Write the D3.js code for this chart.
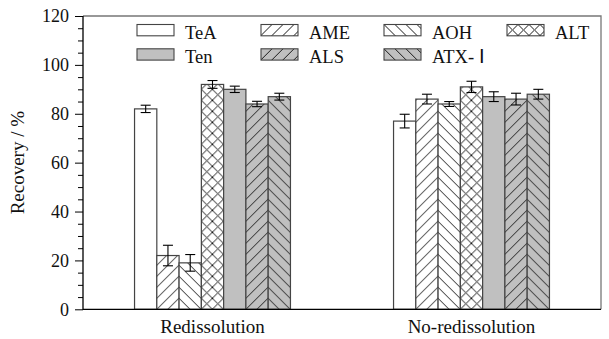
<!DOCTYPE html>
<html>
<head>
<meta charset="utf-8">
<script src="https://cdn.jsdelivr.net/npm/d3@7"></script>
<style>
  html, body { margin: 0; padding: 0; background: #fff; }
  svg { display: block; font-family: "Liberation Serif", "Times New Roman", serif; }
</style>
</head>
<body>
<svg id="chart" width="609" height="339"></svg>
<script>
// ---- data ----
const categories = ["Redissolution", "No-redissolution"];
const series = ["TeA", "AME", "AOH", "ALT", "Ten", "ALS", "ATX- Ⅰ"];
const valuesRedissolution = [82, 22, 19, 92, 90, 84, 87];
const errorsRedissolution = [1.5, 4.2, 3.4, 1.6, 1.3, 1.1, 1.4];
const valuesNoRedissolution = [77, 86, 84, 91, 87, 86, 88];
const errorsNoRedissolution = [2.8, 2.0, 1.0, 2.3, 2.0, 2.4, 2.0];
const yTicks = [0, 20, 40, 60, 80, 100, 120];
const yLabel = "Recovery / %";

// style per series: fill and hatch type
const fills = ["#ffffff", "#ffffff", "#ffffff", "#ffffff", "#c0c0c0", "#c0c0c0", "#c0c0c0"];
const hatches = ["none", "fwd", "back", "cross", "none", "fwd", "back"];

const values = [valuesRedissolution, valuesNoRedissolution];
const errors = [errorsRedissolution, errorsNoRedissolution];

const W = 609, H = 339;
const margin = { left: 83, right: 8, top: 16, bottom: 29.7 };
const svg = d3.select("#chart");
const defs = svg.append("defs");

const x0 = d3.scaleBand().domain(categories).range([margin.left, W - margin.right])
  .paddingInner(0.398).paddingOuter(0.199);
const x1 = d3.scaleBand().domain(series).range([0, x0.bandwidth()]);
const y = d3.scaleLinear().domain([0, 120]).range([H - margin.bottom, margin.top]);

const P = 11;
function hatchPath(type) {
  const fwd = `M0,${P} L${P},0 M${-P/2},${P/2} L${P/2},${-P/2} M${P/2},${P*1.5} L${P*1.5},${P/2}`;
  const back = `M0,0 L${P},${P} M${-P/2},${P/2} L${P/2},${P*1.5} M${P/2},${-P/2} L${P*1.5},${P/2}`;
  if (type === "fwd") return fwd;
  if (type === "back") return back;
  if (type === "cross") return fwd + " " + back;
  return "";
}
let pid = 0;
function makeFill(i, ox, oy) {
  if (hatches[i] === "none") return fills[i];
  const id = "pat" + (pid++);
  const p = defs.append("pattern").attr("id", id).attr("patternUnits", "userSpaceOnUse")
    .attr("x", ox).attr("y", oy).attr("width", P).attr("height", P);
  p.append("rect").attr("width", P).attr("height", P).attr("fill", fills[i]);
  p.append("path").attr("d", hatchPath(hatches[i])).attr("stroke", "#1a1a1a")
    .attr("stroke-width", 1).attr("fill", "none");
  return `url(#${id})`;
}

// frame (top/right grey)
svg.append("path")
  .attr("d", `M${margin.left},${margin.top} H${W - margin.right} V${H - margin.bottom}`)
  .attr("fill", "none").attr("stroke", "#777").attr("stroke-width", 1.3);

// bars
const bars = [];
categories.forEach((c, ci) => {
  series.forEach((s, si) => {
    bars.push({ c, ci, s, si, v: values[ci][si], e: errors[ci][si] });
  });
});
const g = svg.append("g");
bars.forEach(d => {
  const bx = x0(d.c) + x1(d.s);
  const bw = x1.bandwidth();
  g.append("rect")
    .attr("x", bx).attr("y", y(d.v))
    .attr("width", bw).attr("height", y(0) - y(d.v))
    .attr("fill", makeFill(d.si, bx, y(0)))
    .attr("stroke", "#444").attr("stroke-width", 1.2);
});
// error bars
bars.forEach(d => {
  const cx = x0(d.c) + x1(d.s) + x1.bandwidth() / 2;
  const eg = g.append("g").attr("stroke", "#000").attr("stroke-width", 1.1);
  eg.append("line").attr("x1", cx).attr("x2", cx).attr("y1", y(d.v - d.e)).attr("y2", y(d.v + d.e));
  eg.append("line").attr("x1", cx - 5).attr("x2", cx + 5).attr("y1", y(d.v - d.e)).attr("y2", y(d.v - d.e));
  eg.append("line").attr("x1", cx - 5).attr("x2", cx + 5).attr("y1", y(d.v + d.e)).attr("y2", y(d.v + d.e));
});

// y axis
const yAxis = svg.append("g").attr("transform", `translate(${margin.left},0)`);
yAxis.call(d3.axisLeft(y).tickValues(d3.range(0, 121, 5).filter(v => v % 20 !== 0)).tickSize(5).tickFormat(""));
yAxis.select(".domain").remove();
const yAxisMaj = svg.append("g").attr("transform", `translate(${margin.left},0)`);
yAxisMaj.call(d3.axisLeft(y).tickValues(yTicks).tickSize(8).tickPadding(6));
yAxisMaj.select(".domain").remove();
yAxisMaj.selectAll("text").attr("font-size", "18px").attr("fill", "#111")
  .attr("font-family", "Liberation Serif, serif");
svg.selectAll(".tick line").attr("stroke", "#000").attr("stroke-width", 1);

// axis lines (left and bottom, black)
svg.append("path")
  .attr("d", `M${margin.left},${margin.top} V${H - margin.bottom} H${W - margin.right}`)
  .attr("fill", "none").attr("stroke", "#000").attr("stroke-width", 1.3);

// x labels
const xAxis = svg.append("g").attr("transform", `translate(0,${H - margin.bottom})`);
xAxis.call(d3.axisBottom(x0).tickSize(0).tickPadding(10));
xAxis.select(".domain").remove();
xAxis.selectAll("text").attr("font-size", "19px").attr("fill", "#111")
  .attr("font-family", "Liberation Serif, serif").attr("dy", "0.71em");

// y label
svg.append("text")
  .attr("transform", `translate(24,${(margin.top + H - margin.bottom) / 2}) rotate(-90)`)
  .attr("text-anchor", "middle").attr("font-size", "19px").attr("fill", "#111")
  .text(yLabel);

// legend
const legCols = [137, 261, 384, 507];
const legRows = [24.5, 48.8];
series.forEach((s, i) => {
  const col = i < 4 ? i : i - 4;
  const row = i < 4 ? 0 : 1;
  const lx = legCols[col], ly = legRows[row];
  svg.append("rect").attr("x", lx).attr("y", ly).attr("width", 37).attr("height", 11.3)
    .attr("fill", makeFill(i, lx, ly)).attr("stroke", "#444").attr("stroke-width", 1.1);
  svg.append("text").attr("x", lx + 48).attr("y", ly + 14.5)
    .attr("font-size", "18.5px").attr("fill", "#111").text(s);
});
</script>
</body>
</html>
